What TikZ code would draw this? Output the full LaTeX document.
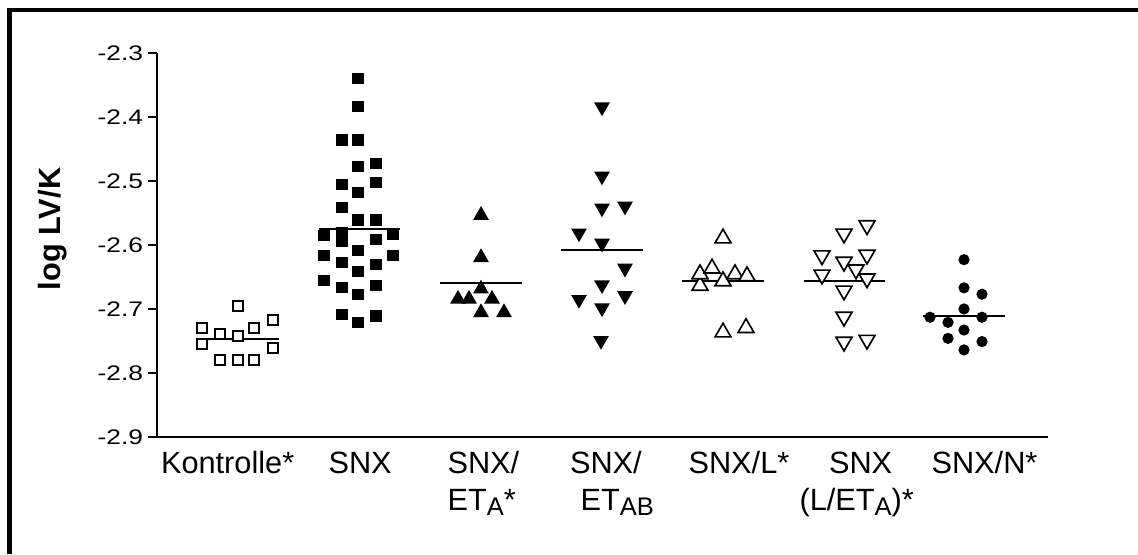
\documentclass[tikz,border=0pt]{standalone}
\usepackage{fontspec}
\setmainfont{Liberation Sans}
\newfontfamily\tickfont[FakeStretch=1.25]{Liberation Sans}
\usepackage{tikz}
\usetikzlibrary{shapes.geometric}
\usetikzlibrary{positioning}
\newcommand{\lowidx}[1]{\raisebox{-3pt}{\fontsize{14.5}{16}\selectfont #1}}

\begin{document}
\begin{tikzpicture}[x=0.02cm, y=-0.02cm,
	every node/.style={inner sep=0pt, outer sep=0pt},
	catlabel/.style={font=\fontsize{17.5}{21}\selectfont, anchor=base west},
	ticklabel/.style={font=\tickfont\fontsize{12}{14}\selectfont, anchor=east},
	opensq/.style={rectangle, draw, fill=white, line width=0.95pt, minimum size=5.6pt},
	fullsq/.style={rectangle, fill=black, minimum size=6.3pt},
	uptri/.style={regular polygon, regular polygon sides=3, minimum size=10.4pt, yshift=-1.3pt, line width=0.95pt},
	downtri/.style={regular polygon, regular polygon sides=3, shape border rotate=180, minimum size=10.4pt, yshift=1.3pt, line width=0.95pt},
	dot/.style={circle, fill=black, minimum size=6.4pt},
	meanline/.style={line width=1.1pt}]
	\useasboundingbox (0,0) rectangle (1138,554);
	\draw[line width=2.3pt] (9.5,554) -- (9.5,10.3) -- (1138,10.3);
	\node[rotate=90, font=\bfseries\fontsize{17.5}{21}\selectfont] (ylabel) at (53,229) {log LV/K};
	\begin{scope}[yshift=28.38cm, y=12.8cm]
		\draw[line width=1.1pt] (157,-2.3) -- (157,-2.9) -- (1048,-2.9);
		\foreach \t in {3,...,9}
		{
			\draw[line width=1.1pt] (148,-2.\t) -- (157,-2.\t);
			\node[ticklabel] (tick\t) at (143,-2.\t) {-2.\t};
		}
		\foreach \a/\b/\m in {197/279/-2.747, 319/400/-2.575, 440/522/-2.659, 561/643/-2.608, 682/764/-2.656, 804/885/-2.656, 923/1005/-2.711}
		{
			\draw[meanline] (\a,\m) -- (\b,\m);
		}
		\foreach \x/\v[count=\i] in {238/-2.695, 202/-2.730, 220/-2.739, 238/-2.742, 254/-2.730, 273/-2.717, 202/-2.755, 273/-2.761, 220/-2.780, 238/-2.780, 254/-2.780}
		{
			\node[opensq] (ko\i) at (\x,\v) {};
		}
		\foreach \x/\v[count=\i] in {324/-2.585, 324/-2.616, 324/-2.655, 342/-2.436, 342/-2.505, 342/-2.542, 342/-2.581, 342/-2.595, 342/-2.627, 342/-2.667, 342/-2.708, 358/-2.340, 358/-2.383, 358/-2.436, 358/-2.477, 358/-2.518, 358/-2.561, 358/-2.608, 358/-2.641, 358/-2.677, 358/-2.721, 376/-2.473, 376/-2.502, 376/-2.561, 376/-2.592, 376/-2.630, 376/-2.664, 376/-2.711, 393/-2.583, 393/-2.617}
		{
			\node[fullsq] (snx\i) at (\x,\v) {};
		}
		\foreach \x/\v[count=\i] in {481/-2.550, 481/-2.616, 481/-2.665, 458/-2.681, 469/-2.681, 492/-2.681, 481/-2.702, 504/-2.702}
		{
			\node[uptri, fill=black] (eta\i) at (\x,\v) {};
		}
		\foreach \x/\v[count=\i] in {602/-2.388, 602/-2.496, 602/-2.546, 625/-2.543, 579/-2.585, 602/-2.601, 625/-2.640, 602/-2.666, 579/-2.689, 625/-2.683, 602/-2.702, 601/-2.753}
		{
			\node[downtri, fill=black] (etab\i) at (\x,\v) {};
		}
		\foreach \x/\v[count=\i] in {723/-2.586, 700/-2.660, 700/-2.642, 712/-2.633, 723/-2.653, 735/-2.642, 747/-2.645, 723/-2.733, 746/-2.726}
		{
			\node[uptri, draw, fill=white] (l\i) at (\x,\v) {};
		}
		\foreach \x/\v[count=\i] in {867/-2.573, 844/-2.586, 822/-2.620, 867/-2.619, 844/-2.630, 856/-2.642, 822/-2.650, 867/-2.656, 844/-2.675, 844/-2.716, 844/-2.755, 867/-2.752}
		{
			\node[downtri, draw, fill=white] (leta\i) at (\x,\v) {};
		}
		\foreach \x/\v[count=\i] in {964/-2.623, 964/-2.667, 982/-2.677, 964/-2.700, 930/-2.713, 982/-2.713, 948/-2.721, 964/-2.733, 948/-2.746, 982/-2.751, 964/-2.764}
		{
			\node[dot] (n\i) at (\x,\v) {};
		}
	\end{scope}
	\node[catlabel] (kontrolle) at (161,473) {Kontrolle*};
	\node[catlabel] (snx) at (328.5,473) {SNX};
	\node[catlabel] (etaA) at (447.5,473) {SNX/};
	\node[catlabel] (etaAlow) at (447.5,510) {ET\lowidx{A}*};
	\node[catlabel] (etaAB) at (570,473) {SNX/};
	\node[catlabel] (etaABlow) at (580.5,510) {ET\lowidx{AB}};
	\node[catlabel] (snxL) at (688.5,473) {SNX/L*};
	\node[catlabel] (snxLeta) at (829,473) {SNX};
	\node[catlabel] (snxLetalow) at (799.5,510) {(L/ET\lowidx{A})*};
	\node[catlabel] (snxN) at (931.5,473) {SNX/N*};
\end{tikzpicture}
\end{document}
